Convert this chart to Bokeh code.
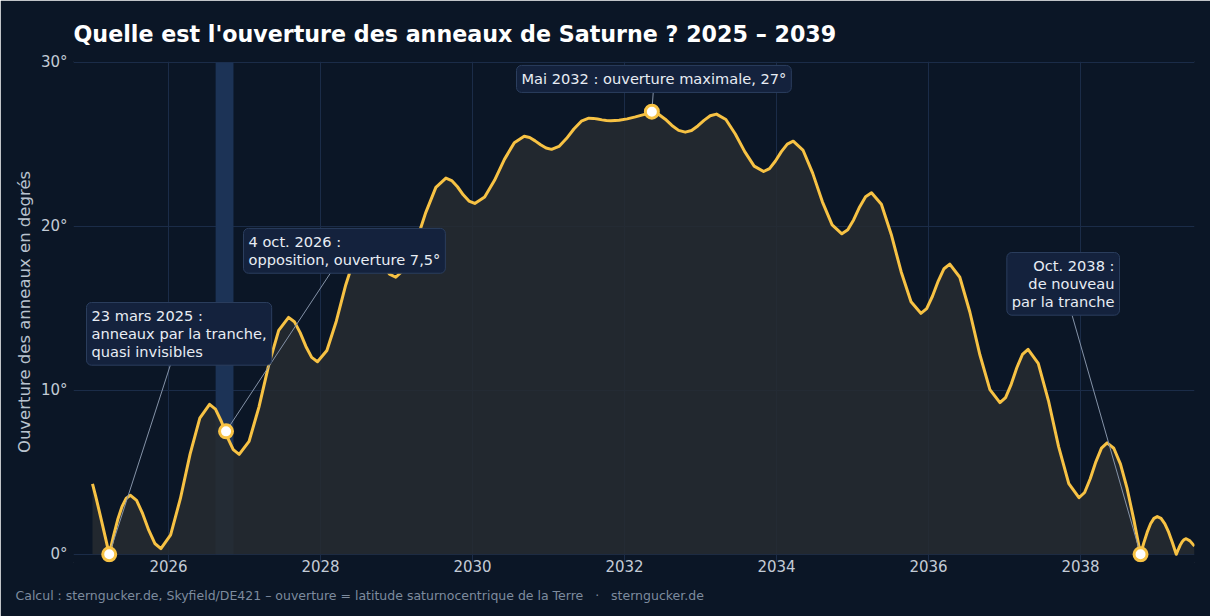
from bokeh.plotting import figure
from bokeh.models import Range1d, Label, Title, FixedTicker, ColumnDataSource
from bokeh.embed import file_html
from bokeh.resources import INLINE

# ouverture des anneaux (degrés)
years = [
    2025.000, 2025.044, 2025.088, 2025.132, 2025.176, 2025.220,
    2025.276, 2025.332, 2025.388, 2025.444, 2025.500,
    2025.580, 2025.660, 2025.740, 2025.820, 2025.900,
    2026.028, 2026.156, 2026.284, 2026.412, 2026.540,
    2026.618, 2026.696, 2026.774, 2026.852, 2026.930,
    2027.060, 2027.190, 2027.320, 2027.450, 2027.580,
    2027.656, 2027.732, 2027.808, 2027.884, 2027.960,
    2028.084, 2028.208, 2028.332, 2028.456, 2028.580,
    2028.662, 2028.744, 2028.826, 2028.908, 2028.990,
    2029.122, 2029.254, 2029.386, 2029.518, 2029.650,
    2029.726, 2029.802, 2029.878, 2029.954, 2030.030,
    2030.160, 2030.290, 2030.420, 2030.550, 2030.680,
    2030.752, 2030.824, 2030.896, 2030.968, 2031.040,
    2031.138, 2031.236, 2031.334, 2031.432, 2031.530,
    2031.588, 2031.646, 2031.704, 2031.762, 2031.820,
    2031.928, 2032.036, 2032.144, 2032.252, 2032.360,
    2032.448, 2032.536, 2032.624, 2032.712, 2032.800,
    2032.882, 2032.964, 2033.046, 2033.128, 2033.210,
    2033.334, 2033.458, 2033.582, 2033.706, 2033.830,
    2033.908, 2033.986, 2034.064, 2034.142, 2034.220,
    2034.348, 2034.476, 2034.604, 2034.732, 2034.860,
    2034.938, 2035.016, 2035.094, 2035.172, 2035.250,
    2035.380, 2035.510, 2035.640, 2035.770, 2035.900,
    2035.976, 2036.052, 2036.128, 2036.204, 2036.280,
    2036.412, 2036.544, 2036.676, 2036.808, 2036.940,
    2037.014, 2037.088, 2037.162, 2037.236, 2037.310,
    2037.444, 2037.578, 2037.712, 2037.846, 2037.980,
    2038.054, 2038.128, 2038.202, 2038.276, 2038.350,
    2038.438, 2038.526, 2038.614, 2038.702, 2038.790,
    2038.834, 2038.878, 2038.922, 2038.966, 2039.010,
    2039.060, 2039.110, 2039.160, 2039.210, 2039.260,
    2039.286, 2039.312, 2039.338, 2039.364, 2039.390,
    2039.440, 2039.500,
]
opening = [
    4.30, 3.50, 2.65, 1.78, 0.90, 0.00,
    1.11, 2.12, 2.91, 3.42, 3.60,
    3.29, 2.48, 1.47, 0.66, 0.35,
    1.19, 3.39, 6.11, 8.31, 9.15,
    8.86, 8.10, 7.15, 6.39, 6.10,
    6.89, 8.98, 11.57, 13.66, 14.45,
    14.19, 13.52, 12.68, 12.01, 11.75,
    12.43, 14.22, 16.43, 18.22, 18.90,
    18.71, 18.21, 17.59, 17.09, 16.90,
    17.47, 18.99, 20.86, 22.38, 22.95,
    22.80, 22.42, 21.93, 21.55, 21.40,
    21.79, 22.81, 24.09, 25.11, 25.50,
    25.42, 25.22, 24.98, 24.78, 24.70,
    24.88, 25.36, 25.94, 26.42, 26.60,
    26.59, 26.55, 26.50, 26.46, 26.45,
    26.48, 26.56, 26.68, 26.82, 26.95,
    26.84, 26.54, 26.16, 25.86, 25.75,
    25.85, 26.13, 26.47, 26.75, 26.85,
    26.52, 25.64, 24.56, 23.68, 23.35,
    23.53, 23.99, 24.56, 25.02, 25.20,
    24.66, 23.25, 21.50, 20.09, 19.55,
    19.79, 20.41, 21.19, 21.81, 22.05,
    21.35, 19.51, 17.24, 15.40, 14.70,
    14.99, 15.74, 16.67, 17.42, 17.70,
    16.90, 14.78, 12.17, 10.05, 9.25,
    9.56, 10.37, 11.38, 12.19, 12.50,
    11.64, 9.38, 6.57, 4.31, 3.45,
    3.77, 4.61, 5.64, 6.48, 6.80,
    6.47, 5.50, 4.00, 2.10, 0.00,
    0.71, 1.35, 1.86, 2.19, 2.30,
    2.19, 1.86, 1.35, 0.71, 0.00,
    0.29, 0.56, 0.77, 0.90, 0.95,
    0.82, 0.50,
]

# dates marquées
event_years = [2025.22, 2026.757, 2032.36, 2038.79]
event_values = [0.0, 7.5, 27.0, 0.0]
event_texts = [
    "23 mars 2025 :\nanneaux par la tranche,\nquasi invisibles",
    "4 oct. 2026 :\nopposition, ouverture 7,5°",
    "Mai 2032 : ouverture maximale, 27°",
    "Oct. 2038 :\nde nouveau\npar la tranche",
]
label_x = [2024.921, 2026.987, 2030.579, 2038.513]
label_y = [15.36, 19.88, 29.82, 18.41]
label_align = ["left", "left", "left", "right"]
line_end_x = [2026.03, 2028.13, 2032.38, 2037.89]
line_end_y = [11.62, 17.15, 28.3, 14.57]

band_years = (2026.62, 2026.855)
x_ticks = [2026, 2028, 2030, 2032, 2034, 2036, 2038]
y_ticks = [0, 10, 20, 30]

title_text = "Quelle est l'ouverture des anneaux de Saturne ? 2025 – 2039"
sep = "\u00a0\u00a0\u00a0·\u00a0\u00a0\u00a0"
footer_text = ("Calcul : sterngucker.de, Skyfield/DE421 – ouverture = "
               "latitude saturnocentrique de la Terre" + sep + "sterngucker.de")

BG = "#0b1626"
GRID = "#1b2c48"
TICK = "#c3cbd6"
YELLOW = "#f7c244"
FONT = "DejaVu Sans"

p = figure(width=1210, height=616, output_backend="svg", toolbar_location=None,
           x_range=Range1d(2024.75, 2039.5), y_range=Range1d(-0.5, 30.06),
           min_border_left=73, min_border_right=16, min_border_top=61, min_border_bottom=54)
p.background_fill_color = BG
p.border_fill_color = BG
p.outline_line_color = BG
p.outline_line_width = 1

p.title.text = title_text
p.title.text_color = "#ffffff"
p.title.text_font = FONT
p.title.text_font_size = "22.2px"
p.title.text_font_style = "bold"
p.title.standoff = 30

p.xgrid.grid_line_color = GRID
p.ygrid.grid_line_color = GRID
p.xaxis.ticker = FixedTicker(ticks=x_ticks)
p.yaxis.ticker = FixedTicker(ticks=y_ticks)
p.yaxis.major_label_overrides = {t: f"{t}°" for t in y_ticks}
for ax in (p.xaxis, p.yaxis):
    ax.axis_line_color = None
    ax.major_tick_line_color = None
    ax.minor_tick_line_color = None
    ax.major_tick_out = 0
    ax.major_tick_in = 0
    ax.minor_tick_out = 0
    ax.major_label_text_color = TICK
    ax.major_label_text_font = FONT
    ax.major_label_text_font_size = "15px"
p.xaxis.major_label_standoff = -3
p.yaxis.major_label_standoff = 6
p.yaxis.axis_label = "Ouverture des anneaux en degrés"
p.yaxis.axis_label_text_font = FONT
p.yaxis.axis_label_text_font_size = "16.5px"
p.yaxis.axis_label_text_font_style = "normal"
p.yaxis.axis_label_text_color = "#b9c3cf"
p.yaxis.axis_label_standoff = 4

# bande autour de l'opposition
p.quad(left=band_years[0], right=band_years[1], bottom=0, top=30,
       fill_color="#1c3356", line_color=None)

src = ColumnDataSource(data=dict(x=years, y=opening))
p.varea(x="x", y1=0, y2="y", source=src, fill_color="#262b31", fill_alpha=0.88)
p.line(x="x", y="y", source=src, line_color=YELLOW, line_width=3, line_join="round")

p.segment(x0=event_years, y0=event_values, x1=line_end_x, y1=line_end_y,
          line_color="#8593a8", line_width=1)
p.scatter(x=event_years, y=event_values, size=13, fill_color="#ffffff",
          line_color=YELLOW, line_width=3)

for txt, lx, ly, al in zip(event_texts, label_x, label_y, label_align):
    p.add_layout(Label(x=lx, y=ly, text=txt, text_align=al, text_baseline="top",
                       text_font=FONT, text_font_size="14.6px", text_color="#e8edf4",
                       text_line_height=1.05,
                       background_fill_color="#14223d", background_fill_alpha=1,
                       border_line_color="#2b3e5e", border_line_width=1,
                       border_radius=5, padding=5))

foot = Title(text=footer_text, align="left", offset=-58,
             text_font=FONT, text_font_size="12.5px",
             text_font_style="normal", text_color="#7d8b9e", standoff=22)
p.add_layout(foot, "below")

open("out.html", "w").write(file_html(p, INLINE))
